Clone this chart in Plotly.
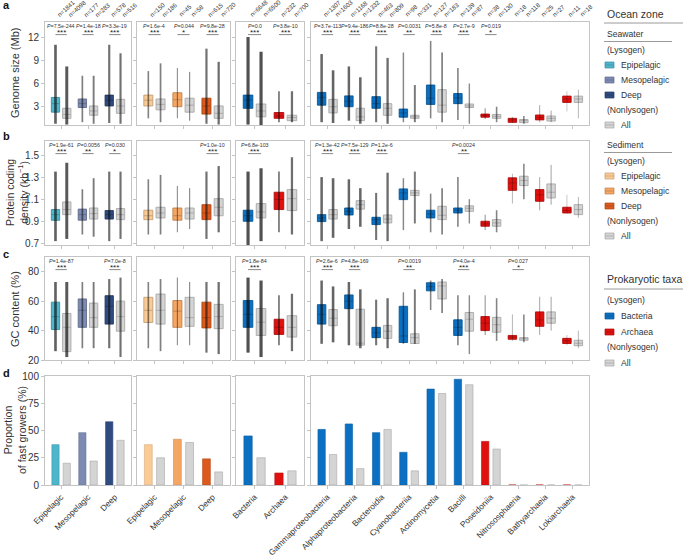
import math
import plotly.graph_objects as go

# ---------------- data ----------------
seawater_zones = ["Epipelagic", "Mesopelagic", "Deep"]
sediment_zones = ["Epipelagic", "Mesopelagic", "Deep"]
domains = ["Bacteria", "Archaea"]
taxa = ["Gammaproteobacteria", "Alphaproteobacteria", "Bacteroidia", "Cyanobacteriia",
        "Actinomycetia", "Bacilli", "Poseidoniia", "Nitrososphaeria", "Bathyarchaeia", "Lokiarchaeia"]

n_sw_lys = [1841, 177, 578]
n_sw_non = [4098, 283, 516]
n_sd_lys = [150, 45, 615]
n_sd_non = [186, 58, 720]
n_dom_lys = [6648, 232]
n_dom_non = [6500, 700]
n_tax_lys = [1307, 1168, 463, 98, 127, 139, 38, 18, 25, 11]
n_tax_non = [1603, 1332, 809, 331, 183, 87, 130, 118, 27, 18]

# box summaries per category: (q1, median, q3, lowest point, highest point)
genome_sw_lys = [(2.3, 3.4, 4.2, 0.8, 11.0), (2.9, 3.4, 4.0, 1.0, 7.0), (3.1, 3.85, 4.5, 0.9, 11.0)]
genome_sw_non = [(1.5, 2.0, 2.8, 0.7, 8.2), (1.9, 2.45, 3.1, 0.8, 7.0), (2.15, 3.1, 3.95, 0.8, 9.9)]
genome_sd_lys = [(3.1, 3.85, 4.5, 1.5, 7.6), (3.0, 3.9, 4.8, 1.5, 8.0), (2.05, 3.1, 4.1, 0.8, 10.5)]
genome_sd_non = [(2.6, 3.3, 4.0, 1.0, 8.6), (2.3, 3.2, 4.1, 1.2, 7.5), (1.5, 2.15, 3.1, 0.7, 8.8)]
genome_dom_lys = [(2.8, 3.85, 4.5, 0.7, 12.0), (1.5, 1.8, 2.25, 1.0, 5.0)]
genome_dom_non = [(1.7, 2.45, 3.35, 0.5, 10.1), (1.2, 1.6, 1.9, 1.0, 5.0)]
genome_tax_lys = [(3.2, 4.2, 4.85, 1.0, 9.8), (3.0, 3.7, 4.4, 1.2, 8.2), (2.8, 3.4, 4.3, 1.0, 10.8),
                  (1.65, 2.2, 2.7, 1.0, 10.0), (3.3, 4.1, 5.8, 1.5, 11.5), (3.4, 4.15, 4.7, 1.3, 8.0),
                  (1.65, 1.85, 2.05, 1.4, 2.8), (0.98, 1.3, 1.5, 0.9, 1.7), (1.3, 1.6, 1.93, 1.0, 3.2),
                  (3.56, 4.0, 4.37, 2.4, 5.0)]
genome_tax_non = [(2.2, 3.0, 3.95, 0.9, 7.7), (1.2, 1.7, 2.8, 0.8, 6.8), (1.9, 2.8, 3.4, 0.8, 9.3),
                  (1.5, 1.7, 1.9, 1.0, 5.8), (2.3, 3.2, 5.2, 1.0, 10.0), (2.9, 3.1, 3.35, 0.8, 6.0),
                  (1.5, 1.75, 2.0, 1.0, 3.0), (0.95, 1.2, 1.35, 0.8, 1.8), (1.15, 1.5, 1.8, 1.0, 2.5),
                  (3.56, 4.0, 4.37, 1.5, 5.2)]

coding_sw_lys = [(0.909, 0.96, 1.006, 0.72, 1.35), (0.91, 0.96, 1.01, 0.78, 1.19), (0.92, 0.96, 0.997, 0.72, 1.35)]
coding_sw_non = [(0.96, 1.006, 1.075, 0.74, 1.43), (0.92, 0.97, 1.02, 0.76, 1.29), (0.915, 0.96, 1.015, 0.74, 1.35)]
coding_sd_lys = [(0.915, 0.95, 1.0, 0.78, 1.28), (0.91, 0.95, 1.02, 0.8, 1.22), (0.915, 0.975, 1.05, 0.74, 1.35)]
coding_sd_non = [(0.93, 0.975, 1.027, 0.78, 1.32), (0.92, 0.975, 1.02, 0.83, 1.2), (0.95, 1.027, 1.105, 0.8, 1.4)]
coding_dom_lys = [(0.9, 0.95, 1.0, 0.68, 1.35), (1.006, 1.096, 1.163, 0.8, 1.35)]
coding_dom_non = [(0.93, 0.985, 1.06, 0.72, 1.38), (0.997, 1.105, 1.187, 0.78, 1.48)]
coding_tax_lys = [(0.897, 0.93, 0.96, 0.72, 1.3), (0.957, 0.99, 1.02, 0.83, 1.28), (0.87, 0.915, 0.936, 0.73, 1.157),
                  (1.096, 1.157, 1.193, 0.82, 1.29), (0.93, 0.966, 1.0, 0.8, 1.15), (0.975, 1.0, 1.02, 0.85, 1.3),
                  (0.855, 0.876, 0.9, 0.82, 0.96), (1.18, 1.247, 1.293, 1.06, 1.33), (1.081, 1.14, 1.187, 1.0, 1.3),
                  (0.975, 0.997, 1.027, 0.97, 1.14)]
coding_tax_non = [(0.92, 0.96, 1.006, 0.75, 1.29), (1.01, 1.05, 1.087, 0.85, 1.2), (0.885, 0.92, 0.957, 0.72, 1.34),
                  (1.133, 1.157, 1.18, 0.88, 1.35), (0.915, 0.954, 1.036, 0.78, 1.2), (0.99, 1.018, 1.04, 0.88, 1.1),
                  (0.855, 0.885, 0.915, 0.8, 1.0), (1.223, 1.27, 1.308, 1.1, 1.42), (1.111, 1.163, 1.238, 1.05, 1.41),
                  (0.96, 1.006, 1.05, 0.93, 1.12)]

gc_sw_lys = [(40.7, 49.5, 59.3, 26, 73), (42.2, 53.8, 61.5, 28, 73), (44.4, 56.5, 63.7, 28, 75)]
gc_sw_non = [(25.7, 42.2, 51.6, 22, 73), (42.2, 48.8, 58.7, 28, 73), (39.6, 49.5, 60.0, 22, 76)]
gc_sd_lys = [(45.5, 53.8, 62.6, 28, 73), (42.2, 53.2, 60.4, 30, 76), (41.8, 48.8, 59.3, 25, 73)]
gc_sd_non = [(44.4, 53.8, 64.8, 26, 75), (42.9, 48.8, 62.6, 30, 73), (41.3, 49.5, 57.8, 24, 73)]
gc_dom_lys = [(42.2, 51.0, 60.4, 25, 76), (37.4, 42.2, 47.7, 30, 64)]
gc_dom_non = [(36.7, 45.7, 55.0, 22, 74), (35.6, 42.2, 50.1, 26, 65)]
gc_tax_lys = [(44.4, 51.0, 57.6, 31, 74), (54.9, 60.0, 64.2, 30, 73), (35.2, 38.5, 42.2, 30, 61),
              (31.9, 36.3, 56.5, 31, 66), (67.0, 69.9, 72.5, 54, 74), (36.7, 42.2, 47.3, 30, 64),
              (40.0, 45.0, 49.5, 37, 64), (34.1, 35.6, 36.7, 33, 51), (42.9, 47.3, 52.7, 37, 63),
              (31.2, 33.0, 34.7, 30, 37)]
gc_tax_non = [(43.3, 48.4, 54.3, 32, 70), (30.1, 31.5, 54.5, 28, 68), (34.7, 39.6, 43.5, 28, 62),
              (31.2, 35.2, 37.8, 31, 68), (61.5, 70.3, 73.0, 52, 75), (39.6, 47.7, 52.3, 24, 64),
              (38.9, 44.0, 49.0, 33, 62), (33.4, 34.5, 35.2, 32, 51), (45.0, 48.4, 52.7, 40, 63),
              (29.7, 31.4, 33.4, 28, 40)]

fast_sw_lys = [37, 48, 58]
fast_sw_non = [20, 22, 41]
fast_sd_lys = [37, 42, 24]
fast_sd_non = [25, 39, 12]
fast_dom_lys = [45, 11]
fast_dom_non = [25, 13]
fast_tax_lys = [51, 56, 48, 30, 88, 97, 40, 0, 0, 0]
fast_tax_non = [28, 15, 51, 13, 84, 92, 33, 0, 0, 0]

p_genome_sw = [("7.5e-244", "***"), ("1.4e-18", "***"), ("3.3e-19", "***")]
p_genome_sd = [("1.6e-4", "***"), ("0.044", "*"), ("9.8e-28", "***")]
p_genome_dom = [("0.0", "***"), ("3.8e-10", "***")]
p_genome_tax = [("3.7e-113", "***"), ("9.4e-186", "***"), ("8.8e-28", "***"), ("0.0031", "**"),
                ("5.8e-8", "***"), ("2.7e-9", "***"), ("0.019", "*"), None, None, None]
p_coding_sw = [("1.9e-61", "***"), ("0.0056", "**"), ("0.030", "*")]
p_coding_sd = [None, None, ("1.0e-10", "***")]
p_coding_dom = [("6.8e-103", "***"), None]
p_coding_tax = [("1.3e-42", "***"), ("7.5e-129", "***"), ("1.2e-6", "***"), None, None,
                ("0.0024", "**"), None, None, None, None]
p_gc_sw = [("1.4e-87", "***"), None, ("7.0e-8", "***")]
p_gc_sd = [None, None, None]
p_gc_dom = [("1.8e-84", "***"), None]
p_gc_tax = [("2.6e-6", "***"), ("4.8e-169", "***"), None, ("0.0019", "**"), None,
            ("4.0e-4", "***"), None, ("0.027", "*"), None, None]

# ---------------- styles ----------------
SW_COLORS = ["#4db6cb", "#7d8bb3", "#2f4b80"]
SD_COLORS = ["#fbcb96", "#f5a663", "#dc5a1e"]
BAC = "#0b70c1"
ARC = "#e0100f"
GRAY = "#d4d4d4"
GRAY_LINE = "#a8a8a8"
FRAME = "#c4c4c4"
TXT = "#333333"
FONT = "Liberation Sans, Arial, sans-serif"

W, H = 685, 556
def px(x): return x / W
def py(y): return 1 - y / H

col_px = [(45, 131), (137, 230), (236, 304), (311, 589)]
row_px = [(22, 125), (141, 245), (257, 360), (376, 485)]
y_ranges = [[0.64, 13.94], [0.685, 1.627], [20, 90], [0, 100]]
y_ticks = [[3, 6, 9, 12], [0.7, 0.9, 1.1, 1.3, 1.5], [20, 40, 60, 80], [0, 25, 50, 75, 100]]
y_ticktext = [None, ["0.7", "0.9", "1.1", "1.3", "1.5"], None, None]

OFF = 0.21
BOXW = 0.31
BARW = 0.27

def darken(hexc, f=0.78):
    h = hexc.lstrip("#")
    r, g, b = (int(h[i:i + 2], 16) for i in (0, 2, 4))
    return "#%02x%02x%02x" % (int(r * f), int(g * f), int(b * f))

cats = [seawater_zones, sediment_zones, domains, taxa]
lys_colors = [SW_COLORS, SD_COLORS, [BAC, ARC], [BAC] * 6 + [ARC] * 4]
n_lys = [n_sw_lys, n_sd_lys, n_dom_lys, n_tax_lys]
n_non = [n_sw_non, n_sd_non, n_dom_non, n_tax_non]
box_rows = [
    [(genome_sw_lys, genome_sw_non), (genome_sd_lys, genome_sd_non), (genome_dom_lys, genome_dom_non), (genome_tax_lys, genome_tax_non)],
    [(coding_sw_lys, coding_sw_non), (coding_sd_lys, coding_sd_non), (coding_dom_lys, coding_dom_non), (coding_tax_lys, coding_tax_non)],
    [(gc_sw_lys, gc_sw_non), (gc_sd_lys, gc_sd_non), (gc_dom_lys, gc_dom_non), (gc_tax_lys, gc_tax_non)],
]
p_rows = [
    [p_genome_sw, p_genome_sd, p_genome_dom, p_genome_tax],
    [p_coding_sw, p_coding_sd, p_coding_dom, p_coding_tax],
    [p_gc_sw, p_gc_sd, p_gc_dom, p_gc_tax],
]
fast = [(fast_sw_lys, fast_sw_non), (fast_sd_lys, fast_sd_non), (fast_dom_lys, fast_dom_non), (fast_tax_lys, fast_tax_non)]

fig = go.Figure()
annotations = []
shapes = []

def axn(r, c):
    k = r * 4 + c + 1
    return ("" if k == 1 else str(k))

def dots(xa, ya, pos, lo, hi, n):
    w = max(0.6, min(3.4, 0.5 + 0.95 * math.log10(n / 10)))
    a = max(0.35, min(0.72, 0.25 + 0.12 * math.log10(n)))
    fig.add_trace(go.Scatter(x=[pos, pos], y=[lo, hi], mode="lines", xaxis=xa, yaxis=ya,
                             line=dict(color="rgba(10,10,10,%.2f)" % a, width=w),
                             showlegend=False, hoverinfo="skip"))

def box(xa, ya, pos, st, fill, line):
    q1, med, q3 = st[0], st[1], st[2]
    fig.add_trace(go.Box(x=[pos], q1=[q1], median=[med], q3=[q3], lowerfence=[q1], upperfence=[q3],
                         orientation="v", width=BOXW, whiskerwidth=0, fillcolor=fill,
                         line=dict(color=line, width=0.9), boxpoints=False,
                         xaxis=xa, yaxis=ya, showlegend=False, hoverinfo="skip"))

# ---- box rows ----
for r in range(3):
    for c in range(4):
        s = axn(r, c)
        xa, ya = "x" + s, "y" + s
        lys, non = box_rows[r][c]
        for i in range(len(cats[c])):
            col = lys_colors[c][i]
            box(xa, ya, i - OFF, lys[i], col, darken(col))
            box(xa, ya, i + OFF, non[i], GRAY, GRAY_LINE)
        for i in range(len(cats[c])):
            dots(xa, ya, i - OFF, lys[i][3], lys[i][4], n_lys[c][i])
            dots(xa, ya, i + OFF, non[i][3], non[i][4], n_non[c][i])
        # p-values
        top = row_px[r][0]
        for i, pv in enumerate(p_rows[r][c]):
            if pv is None:
                continue
            annotations.append(dict(x=i, y=py(top + 3.8), xref=xa, yref="paper", showarrow=False,
                                    text="<i>P</i>=" + pv[0], font=dict(size=5.3, color=TXT, family=FONT),
                                    xanchor="center", yanchor="middle"))
            annotations.append(dict(x=i, y=py(top + 10.3), xref=xa, yref="paper", showarrow=False,
                                    text=pv[1], font=dict(size=8, color="#222", family=FONT),
                                    xanchor="center", yanchor="middle"))
            shapes.append(dict(type="line", xref=xa, yref="paper", x0=i - OFF, x1=i + OFF,
                               y0=py(top + 12.6), y1=py(top + 12.6), line=dict(color="#555", width=0.7)))

# ---- n labels above row a ----
for c in range(4):
    xa = "x" + axn(0, c)
    for i in range(len(cats[c])):
        for pos, n in ((i - OFF, n_lys[c][i]), (i + OFF, n_non[c][i])):
            annotations.append(dict(x=pos, y=py(row_px[0][0] - 1.5), xref=xa, yref="paper", showarrow=False,
                                    text="n=%d" % n, textangle=-42, xanchor="left", yanchor="bottom",
                                    xshift=-3, font=dict(size=6.2, color=TXT, family=FONT)))

# ---- bar row ----
for c in range(4):
    s = axn(3, c)
    xa, ya = "x" + s, "y" + s
    lys, non = fast[c]
    idx = list(range(len(cats[c])))
    fig.add_trace(go.Bar(x=[i - OFF for i in idx], y=lys, width=BARW, xaxis=xa, yaxis=ya,
                         marker=dict(color=lys_colors[c], line=dict(color=[darken(k, 0.85) for k in lys_colors[c]], width=0.6)),
                         showlegend=False, hoverinfo="skip"))
    fig.add_trace(go.Bar(x=[i + OFF for i in idx], y=non, width=BARW, xaxis=xa, yaxis=ya,
                         marker=dict(color=GRAY, line=dict(color=GRAY_LINE, width=0.6)),
                         showlegend=False, hoverinfo="skip"))

# ---- axes ----
layout = {}
for r in range(4):
    for c in range(4):
        s = axn(r, c)
        x0, x1 = col_px[c]
        y0, y1 = row_px[r]
        nc = len(cats[c])
        xd = dict(domain=[px(x0), px(x1)], anchor="y" + s, range=[-0.6, nc - 0.4],
                  tickmode="array", tickvals=list(range(nc)),
                  showticklabels=(r == 3), tickangle=-45, ticks="outside", ticklen=3,
                  tickcolor=FRAME, showline=True, mirror=True, linecolor=FRAME, linewidth=1,
                  showgrid=False, zeroline=False, automargin=False,
                  tickfont=dict(size=8.3, color=TXT, family=FONT))
        if r == 3:
            xd["ticktext"] = cats[c]
        layout["xaxis" + s] = xd
        yd = dict(domain=[py(y1), py(y0)], anchor="x" + s, range=y_ranges[r], tickmode="array",
                  tickvals=y_ticks[r], showticklabels=(c == 0), ticks="outside", ticklen=3,
                  tickcolor=FRAME, showline=True, mirror=True, linecolor=FRAME, linewidth=1,
                  showgrid=False, zeroline=False, automargin=False,
                  tickfont=dict(size=10, color=TXT, family=FONT))
        if y_ticktext[r] is not None:
            yd["ticktext"] = y_ticktext[r]
        layout["yaxis" + s] = yd

# ---- panel letters and y titles ----
for letter, yy in (("a", 5), ("b", 136), ("c", 254), ("d", 373)):
    annotations.append(dict(x=px(1), y=py(yy), xref="paper", yref="paper", showarrow=False,
                            text="<b>%s</b>" % letter, xanchor="left", yanchor="middle",
                            font=dict(size=11, color="#111", family=FONT)))
for text, xx, yy, fs in (("Genome size (Mb)", 15, 73, 11),
                         ("Protein coding<br>density (kb<sup>−1</sup>)", 17, 193, 10.5),
                         ("GC content (%)", 15, 309, 11),
                         ("Proportion<br>of fast growers (%)", 15, 430, 10.5)):
    annotations.append(dict(x=px(xx), y=py(yy), xref="paper", yref="paper", showarrow=False,
                            text=text, textangle=-90, xanchor="center", yanchor="middle",
                            font=dict(size=fs, color=TXT, family=FONT)))

# ---- legend (drawn) ----
LX = 605
def leg_text(text, y, size=8.6, x=LX):
    annotations.append(dict(x=px(x), y=py(y), xref="paper", yref="paper", showarrow=False, text=text,
                            xanchor="left", yanchor="middle", font=dict(size=size, color=TXT, family=FONT)))

def leg_rule(y, x1):
    shapes.append(dict(type="line", xref="paper", yref="paper", x0=px(LX - 1), x1=px(x1), y0=py(y), y1=py(y),
                       line=dict(color="#9a9a9a", width=1)))

def leg_item(label, y, fill, line):
    shapes.append(dict(type="rect", xref="paper", yref="paper", x0=px(LX), x1=px(LX + 9),
                       y0=py(y + 3), y1=py(y - 3), fillcolor=fill, line=dict(color=line, width=0.7)))
    shapes.append(dict(type="line", xref="paper", yref="paper", x0=px(LX), x1=px(LX + 9),
                       y0=py(y), y1=py(y), line=dict(color=line, width=0.7)))
    leg_text(label, y, x=LX + 14)

leg_text("Ocean zone", 14, size=10.5)
leg_rule(23, 683)
leg_text("Seawater", 34)
leg_rule(41.5, 672)
leg_text("(Lysogen)", 50.5)
for lab, y, col in zip(seawater_zones, (65, 80, 95), SW_COLORS):
    leg_item(lab, y, col, darken(col))
leg_text("(Nonlysogen)", 110.5)
leg_item("All", 125, GRAY, GRAY_LINE)
leg_text("Sediment", 145)
leg_rule(152.5, 672)
leg_text("(Lysogen)", 161)
for lab, y, col in zip(sediment_zones, (176, 191, 206), SD_COLORS):
    leg_item(lab, y, col, darken(col))
leg_text("(Nonlysogen)", 221)
leg_item("All", 236, GRAY, GRAY_LINE)
leg_text("Prokaryotic taxa", 279, size=10.5)
leg_rule(289, 683)
leg_text("(Lysogen)", 300)
leg_item("Bacteria", 316, BAC, darken(BAC))
leg_item("Archaea", 332, ARC, darken(ARC))
leg_text("(Nonlysogen)", 347)
leg_item("All", 363, GRAY, GRAY_LINE)

fig.update_layout(width=W, height=H, margin=dict(l=0, r=0, t=0, b=0, autoexpand=False), paper_bgcolor="white",
                  plot_bgcolor="white", barmode="overlay", showlegend=False, template="none",
                  annotations=annotations, shapes=shapes, font=dict(family=FONT, color=TXT), **layout)

# the page body's default 8 px margin would push the figure off the 685x556 window
fig.write_html("out.html", config={"displayModeBar": False},
               post_script="document.body.style.margin='0px';")
